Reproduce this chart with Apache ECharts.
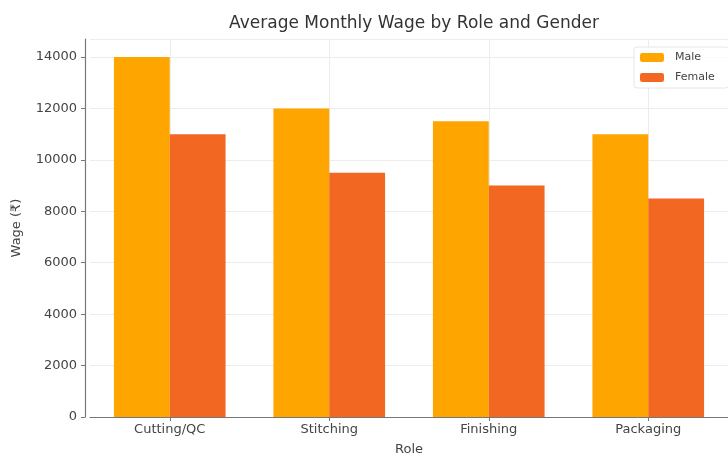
<!DOCTYPE html>
<html>
<head>
<meta charset="utf-8">
<script src="https://cdn.jsdelivr.net/npm/echarts@6/dist/echarts.min.js"></script>
<style>html,body{margin:0;padding:0;background:#fff;}#c{width:728px;height:457px;}</style>
</head>
<body>
<div id="c"></div>
<script>
const categories = ['Cutting/QC', 'Stitching', 'Finishing', 'Packaging'];
const maleWages = [14000, 12000, 11500, 11000];
const femaleWages = [11000, 9500, 9000, 8500];
const seriesNames = ['Male', 'Female'];
const titleText = 'Average Monthly Wage by Role and Gender';

const chart = echarts.init(document.getElementById('c'), null, {renderer: 'canvas'});
const font = 'DejaVu Sans';
chart.setOption({
  animation: false,
  backgroundColor: '#fff',
  title: {
    text: titleText, left: 409, top: 10, textAlign: 'center',
    textStyle: {fontFamily: font, fontSize: 17, fontWeight: 'normal', color: '#333'}
  },
  legend: {
    data: seriesNames, orient: 'vertical', left: 634, top: 47,
    itemWidth: 24, itemHeight: 9, itemGap: 9,
    padding: [5, 14, 5, 6],
    backgroundColor: 'rgba(255,255,255,0.8)', borderColor: '#e6e6e6', borderWidth: 1, borderRadius: 3,
    textStyle: {fontFamily: font, fontSize: 11, color: '#444', padding: [0, 0, 0, 6]}
  },
  grid: {left: 90, right: 0, top: 39, bottom: 40, containLabel: false, outerBoundsMode: 'none'},
  xAxis: {
    type: 'category', data: categories,
    name: 'Role', nameLocation: 'middle', nameGap: 26,
    nameTextStyle: {fontFamily: font, fontSize: 13, color: '#444'},
    axisLine: {lineStyle: {color: '#777', width: 1.2}},
    axisTick: {show: true, alignWithLabel: true, length: 4, lineStyle: {color: '#777'}},
    axisLabel: {fontFamily: font, fontSize: 13, color: '#444', margin: 6},
    splitLine: {show: true, alignWithLabel: true, lineStyle: {color: '#ececec', width: 1}}
  },
  yAxis: {
    type: 'value', min: 0, max: 14700, interval: 2000, offset: 5,
    name: 'Wage (₹)', nameLocation: 'middle', nameGap: 62, nameRotate: 90,
    nameTextStyle: {fontFamily: font, fontSize: 13, color: '#444'},
    axisLine: {show: true, lineStyle: {color: '#777', width: 1.2}},
    axisTick: {show: true, length: 4, lineStyle: {color: '#777'}},
    axisLabel: {fontFamily: font, fontSize: 13, color: '#444', margin: 8, showMaxLabel: false,
      formatter: v => (v % 2000 === 0 ? String(v) : '')},
    splitLine: {show: true, lineStyle: {color: '#ececec', width: 1}}
  },
  series: [
    {name: seriesNames[0], type: 'bar', data: maleWages, barGap: '0%', barCategoryGap: '30%',
      itemStyle: {color: '#FFA500'}},
    {name: seriesNames[1], type: 'bar', data: femaleWages, barGap: '0%', barCategoryGap: '30%',
      itemStyle: {color: '#F26722'}}
  ]
});
</script>
</body>
</html>
